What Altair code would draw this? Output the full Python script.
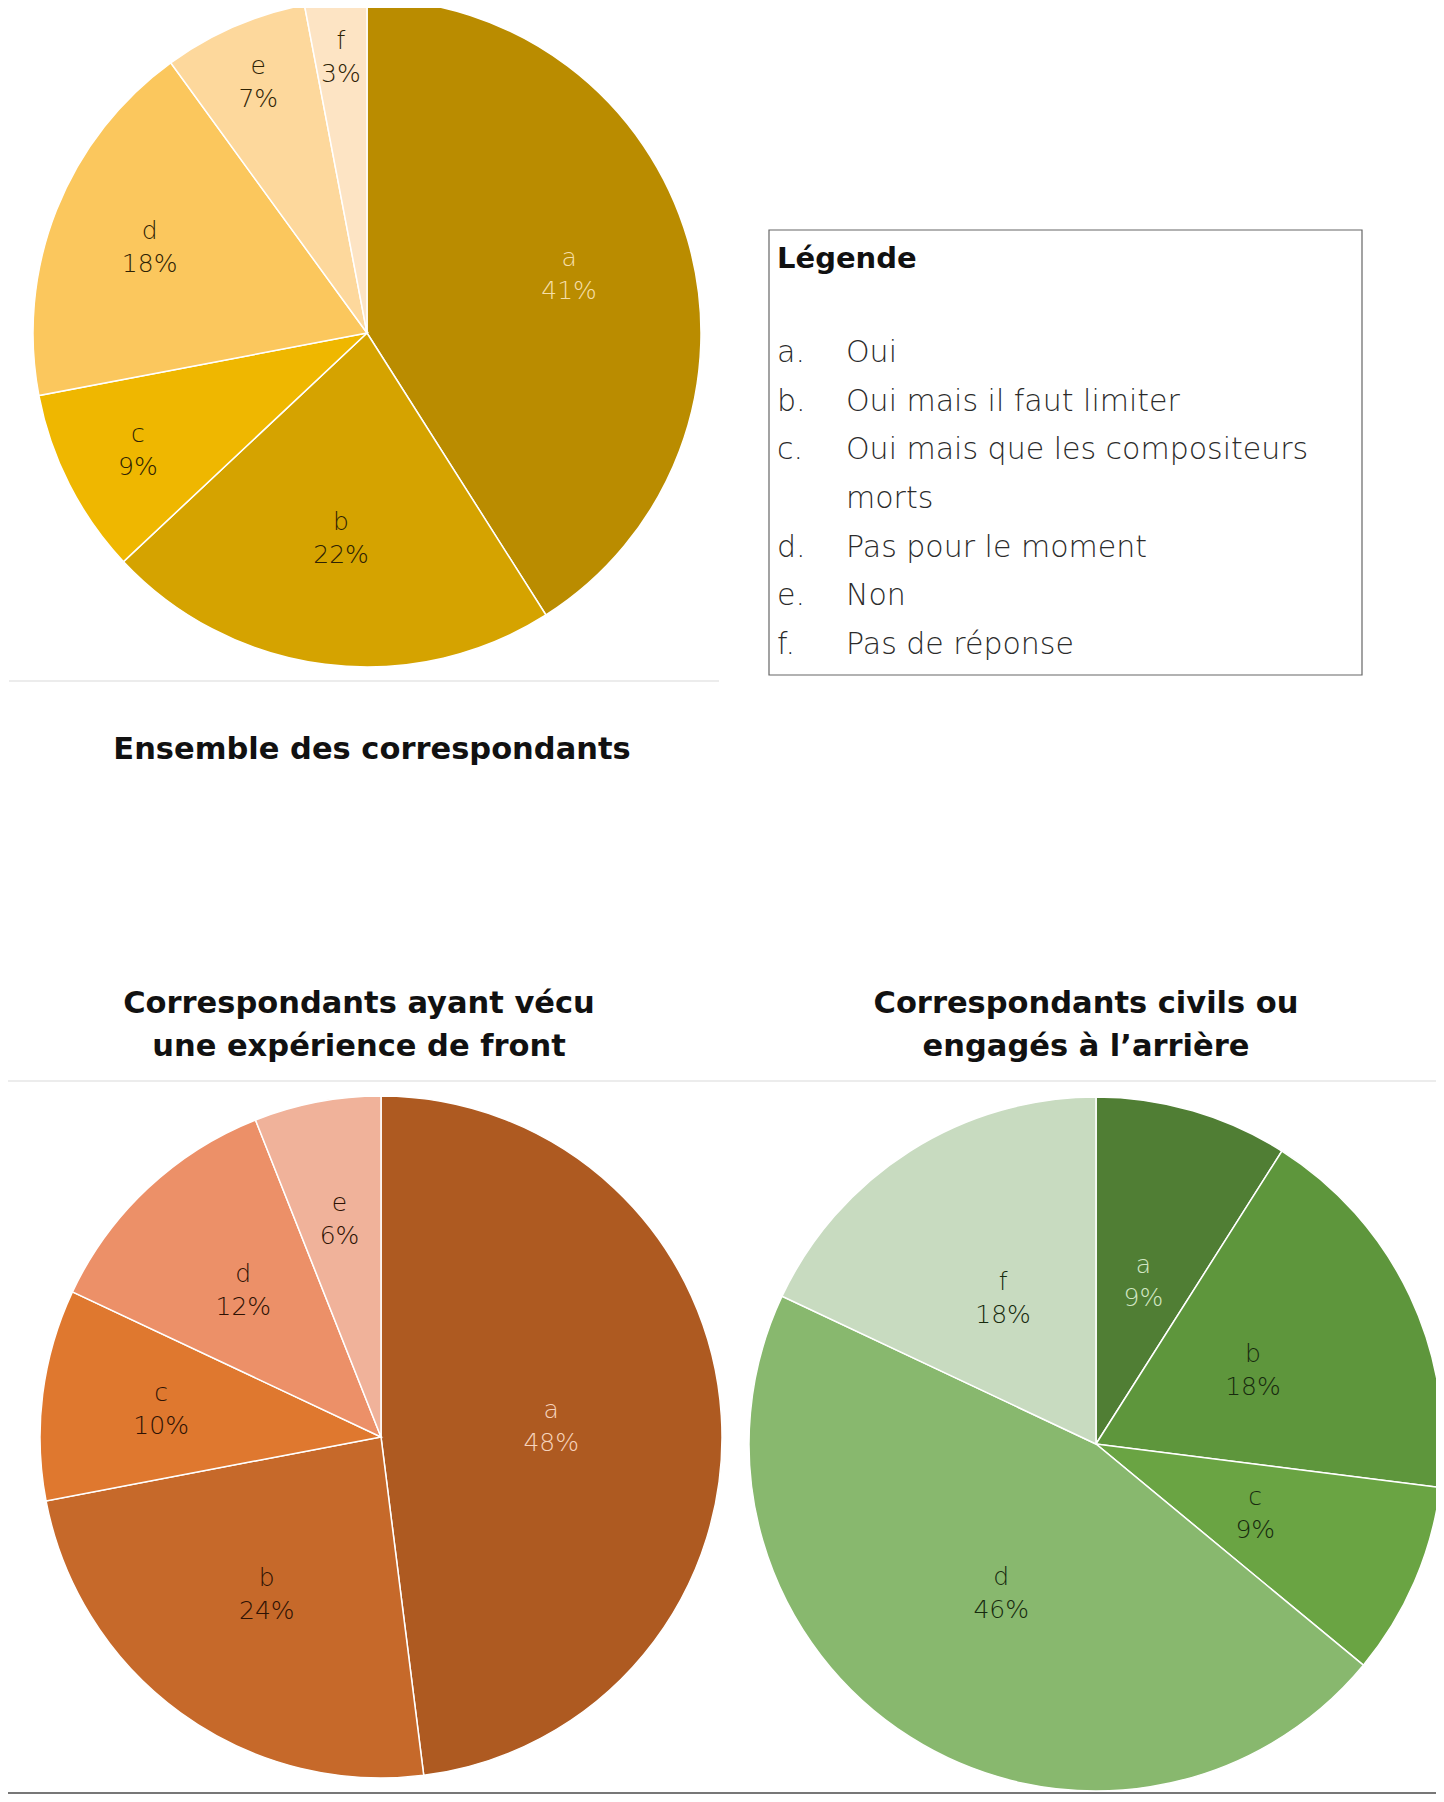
import altair as alt
import pandas as pd

# ---------------- data ----------------
ALL_CATS = ["a", "b", "c", "d", "e", "f"]
ALL_VALUES = [41, 22, 9, 18, 7, 3]

FRONT_CATS = ["a", "b", "c", "d", "e"]
FRONT_VALUES = [48, 24, 10, 12, 6]

CIVIL_CATS = ["a", "b", "c", "d", "f"]
CIVIL_VALUES = [9, 18, 9, 46, 18]

LEGEND_LETTERS = ["a.", "b.", "c.", "", "d.", "e.", "f."]
LEGEND_LABELS = ["Oui", "Oui mais il faut limiter", "Oui mais que les compositeurs",
                 "morts", "Pas pour le moment", "Non", "Pas de réponse"]

TITLE_ALL = "Ensemble des correspondants"
TITLE_FRONT = ["Correspondants ayant vécu", "une expérience de front"]
TITLE_CIVIL = ["Correspondants civils ou", "engagés à l’arrière"]
LEGEND_TITLE = "Légende"

# ---------------- styles / layout ----------------
ALL_COLORS = ["#BA8C00", "#D5A300", "#EFB700", "#FBC75D", "#FDD89C", "#FDE4C4"]
FRONT_COLORS = ["#AE5A21", "#C6692A", "#DF782F", "#EC9068", "#F0B29A"]
CIVIL_COLORS = ["#507E34", "#5E963C", "#6AA443", "#88B86E", "#C8DBC0"]

ALL_LABEL_FRAC = [0.63, 0.62, 0.77, 0.70, 0.82, 0.83]
FRONT_LABEL_FRAC = [0.50, 0.57, 0.65, 0.59, 0.65]
CIVIL_LABEL_FRAC = [0.49, 0.50, 0.50, 0.51, 0.50]

BODY_FONT = "DejaVu Sans"
TITLE_FONT = "DejaVu Sans"
LIGHT = 200


def pie(cats, values, colors, fracs, cx, cy, r, light, dark):
    df = pd.DataFrame({
        "cat": cats,
        "value": values,
        "idx": list(range(len(cats))),
        "lr": [f * r for f in fracs],
    })
    df["pct"] = df["value"].astype(str) + "%"
    arcs = alt.Chart(df).mark_arc(outerRadius=r, stroke="white", strokeWidth=1.5).encode(
        theta=alt.Theta("value:Q", stack=True),
        order=alt.Order("idx:Q"),
        x=alt.value(cx),
        y=alt.value(cy),
        color=alt.Color("cat:N", scale=alt.Scale(domain=cats, range=colors), legend=None),
    )
    lab = alt.Chart(df).transform_window(
        cum="sum(value)", sort=[alt.SortField("idx")],
        frame=[None, 0]
    ).transform_joinaggregate(
        total="sum(value)"
    ).transform_calculate(
        mid="(datum.cum - datum.value / 2) / datum.total"
    )
    tcol = alt.condition(alt.datum.cat == "a", alt.value(light), alt.value(dark))
    enc = dict(
        theta=alt.Theta("mid:Q", stack=None, scale=alt.Scale(domain=[0, 1])),
        radius=alt.Radius("lr:Q", scale=None),
        x=alt.value(cx),
        y=alt.value(cy),
        color=tcol,
    )
    t1 = lab.mark_text(dy=-16, font=BODY_FONT, fontSize=25, fontWeight=LIGHT,
                       align="center", baseline="middle").encode(text="cat:N", **enc)
    t2 = lab.mark_text(dy=17, font=BODY_FONT, fontSize=25, fontWeight=LIGHT,
                       align="center", baseline="middle").encode(text="pct:N", **enc)
    labels = alt.layer(t1, t2)
    return alt.layer(arcs, labels).resolve_scale(theta="independent")


one = pd.DataFrame({"k": [0]})


def text_at(txt, x, y, size, weight, align="center", color="#111111"):
    return alt.Chart(one).mark_text(
        text=txt, font=TITLE_FONT, fontSize=size, fontWeight=weight,
        align=align, baseline="middle", color=color
    ).encode(x=alt.value(x), y=alt.value(y))


def hrule(x1, x2, y, color, w=1.5):
    return alt.Chart(one).mark_rule(color=color, strokeWidth=w).encode(
        x=alt.value(x1), x2=alt.value(x2), y=alt.value(y))


pie_all = pie(ALL_CATS, ALL_VALUES, ALL_COLORS, ALL_LABEL_FRAC, 359, 325, 334,
              "#F6DFA8", "#2E2204")
pie_front = pie(FRONT_CATS, FRONT_VALUES, FRONT_COLORS, FRONT_LABEL_FRAC, 373, 1429, 341,
                "#F6D3BC", "#2E1204")
pie_civil = pie(CIVIL_CATS, CIVIL_VALUES, CIVIL_COLORS, CIVIL_LABEL_FRAC, 1088, 1436, 347,
                "#D2E6C4", "#172A0E")

legend_df = pd.DataFrame({
    "row": list(range(len(LEGEND_LABELS))),
    "letter": LEGEND_LETTERS,
    "label": LEGEND_LABELS,
})
yscale = alt.Scale(domain=[0, 6], range=[345, 637])
legend_letters = alt.Chart(legend_df).mark_text(
    font=BODY_FONT, fontSize=30, fontWeight=LIGHT, align="left", baseline="middle",
    color="#2B2B2B").encode(
    x=alt.value(769), y=alt.Y("row:Q", scale=yscale, axis=None), text="letter:N")
legend_labels = alt.Chart(legend_df).mark_text(
    font=BODY_FONT, fontSize=30, fontWeight=LIGHT, align="left", baseline="middle",
    color="#2B2B2B").encode(
    x=alt.value(838), y=alt.Y("row:Q", scale=yscale, axis=None), text="label:N")
legend_box = alt.Chart(one).mark_rect(fillOpacity=0, stroke="#666666", strokeWidth=1.2).encode(
    x=alt.value(761), x2=alt.value(1354), y=alt.value(222), y2=alt.value(667))
legend_title = text_at(LEGEND_TITLE, 769, 251, 29, "bold", align="left")

titles = [
    text_at(TITLE_ALL, 364, 742, 30.5, "bold"),
    text_at(TITLE_FRONT[0], 351, 996, 30.5, "bold"),
    text_at(TITLE_FRONT[1], 351, 1039, 30.5, "bold"),
    text_at(TITLE_CIVIL[0], 1078, 996, 30.5, "bold"),
    text_at(TITLE_CIVIL[1], 1078, 1039, 30.5, "bold"),
]

rules = [
    hrule(1, 711, 673, "#E6E6E6"),
    hrule(0, 1428, 1073, "#E6E6E6"),
    hrule(0, 1428, 1785, "#777777", 2),
]

chart = alt.layer(
    pie_all, pie_front, pie_civil,
    legend_box, legend_title, legend_letters, legend_labels,
    *titles, *rules,
).resolve_scale(color="independent", theta="independent").properties(
    width=1428, height=1786, padding=0, autosize="none"
).configure_view(stroke=None)

chart.save("out.html", embed_options={"renderer": "svg", "actions": False})
